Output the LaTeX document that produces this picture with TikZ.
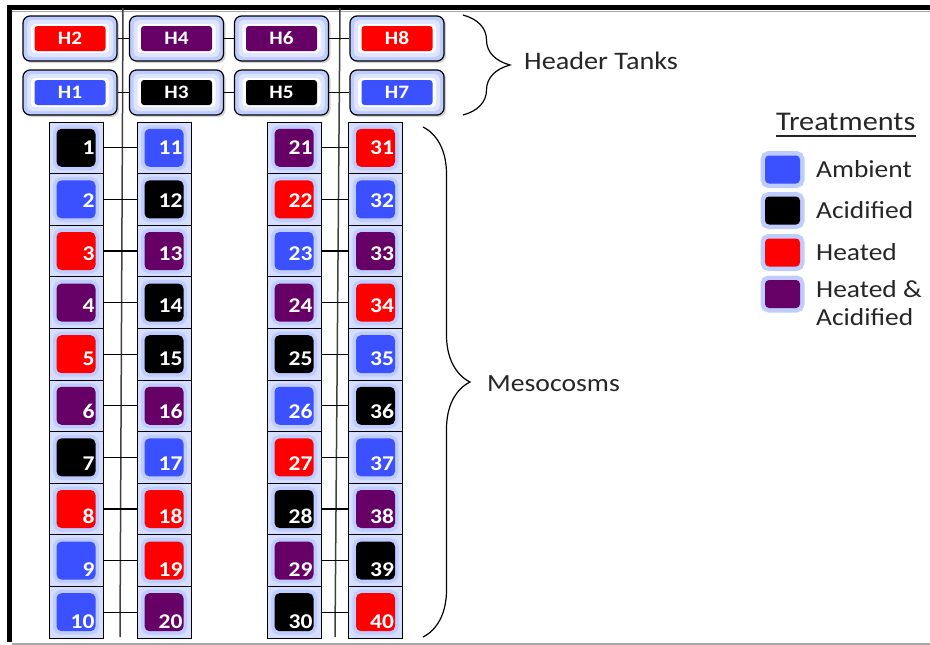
\documentclass[tikz,border=0pt]{standalone}
\usepackage{fontspec}
\setmainfont{Carlito}
\newfontfamily\lblfont[FakeStretch=1.12]{Carlito}
\usepackage{tikz}
\usetikzlibrary{decorations.pathreplacing, shadows}

\definecolor{ambient}{RGB}{59,80,255}
\definecolor{acid}{RGB}{0,0,0}
\definecolor{heat}{RGB}{255,0,0}
\definecolor{both}{RGB}{102,0,102}
\definecolor{glow}{RGB}{190,204,255}

\tikzset{
  tank/.style={draw, line width=1.2pt, rounded corners=7pt, fill=glow,
    minimum width=94pt, minimum height=45pt, inner sep=0pt,
    drop shadow={opacity=0.35, shadow xshift=2pt, shadow yshift=-2pt},
    path picture={
      \fill[glow!50, rounded corners=5pt] ([shift={(4pt,-4pt)}]path picture bounding box.north west) rectangle ([shift={(-4pt,4pt)}]path picture bounding box.south east);
      \fill[white, rounded corners=4pt] ([shift={(8pt,-8pt)}]path picture bounding box.north west) rectangle ([shift={(-8pt,8pt)}]path picture bounding box.south east);
    }},
  tanklabel/.style={rounded corners=3pt, minimum width=71pt, minimum height=25pt,
    inner sep=0pt, text=white, font=\lblfont\bfseries\fontsize{19}{19}\selectfont},
  cell/.style={draw, line width=1pt, fill=glow!65, minimum width=54pt,
    minimum height=51.6pt, inner sep=0pt},
  well/.style={rounded corners=5pt, minimum width=39pt, minimum height=38pt,
    inner sep=0pt, preaction={draw=glow, line width=7pt}},
  num/.style={anchor=east, inner sep=0pt, text=white,
    font=\lblfont\bfseries\fontsize{21}{21}\selectfont},
  pipe/.style={line width=1.2pt},
  riser/.style={line width=1.5pt, black!75},
  key/.style={rounded corners=4pt, minimum width=35pt, minimum height=28pt,
    inner sep=0pt, preaction={draw=glow, line width=9pt}},
  keytext/.style={anchor=base west, inner sep=0pt, align=left, text=black!85,
    font=\lblfont\fontsize{24.5}{28}\selectfont},
  bigbrace/.style={decorate, decoration={brace, amplitude=47pt}, line width=1.2pt},
}

\begin{document}
\begin{tikzpicture}[x=1pt, y=-1pt]
  \useasboundingbox (0,0) rectangle (930,645);

  % frame
  \coordinate (ftl) at (9.5,7.5);
  \coordinate (ftr) at (930,7.5);
  \coordinate (fbl) at (9.5,642);
  \draw[black!35, line width=1pt] (12,11) -- (930,11);
  \draw[black!35, line width=2pt] (12,644) -- (930,644);
  \draw[line width=5pt, miter limit=4] (ftr) -- (ftl) -- (fbl);

  % risers
  \coordinate (r1a) at (123,8);
  \coordinate (r1b) at (120,637);
  \coordinate (r2a) at (340,8);
  \coordinate (r2b) at (335,637);
  \draw[riser] (r1a) -- (r1b);
  \draw[riser] (r2a) -- (r2b);

  % header tanks
  \foreach \n/\x/\y/\c in {2/70/38.5/heat, 4/176.5/38.5/both, 6/281.5/38.5/both, 8/397/38.5/heat,
                           1/70/92.5/ambient, 3/176.5/92.5/acid, 5/281.5/92.5/acid, 7/397/92.5/ambient}
  {
    \node[tank] (h\n) at (\x,\y) {};
    \node[tanklabel, fill=\c] (hl\n) at (h\n) {H\n};
  }
  \foreach \a/\b in {2/4, 4/6, 6/8, 1/3, 3/5, 5/7}
    \draw[pipe] (h\a.east) -- (h\b.west);

  % mesocosms
  \foreach \k/\x/\cols in {
      0/76/{acid,ambient,heat,both,heat,both,acid,heat,ambient,ambient},
      1/164/{ambient,acid,both,acid,acid,both,ambient,heat,heat,both},
      2/294/{both,heat,ambient,both,acid,ambient,heat,acid,both,acid},
      3/375.5/{heat,ambient,both,heat,ambient,acid,ambient,both,acid,heat}}
  {
    \foreach \c [count=\i] in \cols {
      \pgfmathtruncatemacro\n{10*\k+\i}
      \node[cell] (c\n) at (\x, 96.2+51.6*\i) {};
      \node[well, fill=\c] (w\n) at (c\n) {};
      \node[num] (n\n) at ([xshift=-1pt, yshift={-1.1pt*(\i-1)}]w\n.east) {\n};
    }
  }
  \foreach \n in {1,...,10,21,22,...,30} {
    \pgfmathtruncatemacro\m{\n+10}
    \draw[pipe] (c\n.east) -- (c\m.west);
  }

  % braces
  \coordinate (ht1) at (463,15);
  \coordinate (ht2) at (463,115);
  \draw[bigbrace] (ht1) -- (ht2);
  \node[keytext, font=\lblfont\fontsize{25.2}{28}\selectfont] (htlabel) at (524,69) {Header Tanks};
  \coordinate (ms1) at (423,127);
  \coordinate (ms2) at (423,637);
  \draw[bigbrace] (ms1) -- (ms2);
  \node[keytext, font=\lblfont\fontsize{24.7}{28}\selectfont] (mslabel) at (487,391) {Mesocosms};

  % legend
  \node[keytext, font=\lblfont\fontsize{27}{28}\selectfont] (trt) at (776,130) {Treatments};
  \draw[line width=1.8pt, black!85] ([yshift=-6pt]trt.base west) -- ([yshift=-6pt]trt.base east);
  \foreach \c/\y/\t [count=\i] in {ambient/169.5/Ambient, acid/210.5/Acidified, heat/252.5/Heated}
  {
    \node[key, fill=\c] (k\i) at (782.5,\y) {};
    \node[keytext] (kt\i) at (816,\y+7.5) {\t};
  }
  \node[key, fill=both] (k4) at (782.5,294) {};
  \node[keytext] (kt4) at (816,325) {Heated \&\\Acidified};
\end{tikzpicture}
\end{document}
